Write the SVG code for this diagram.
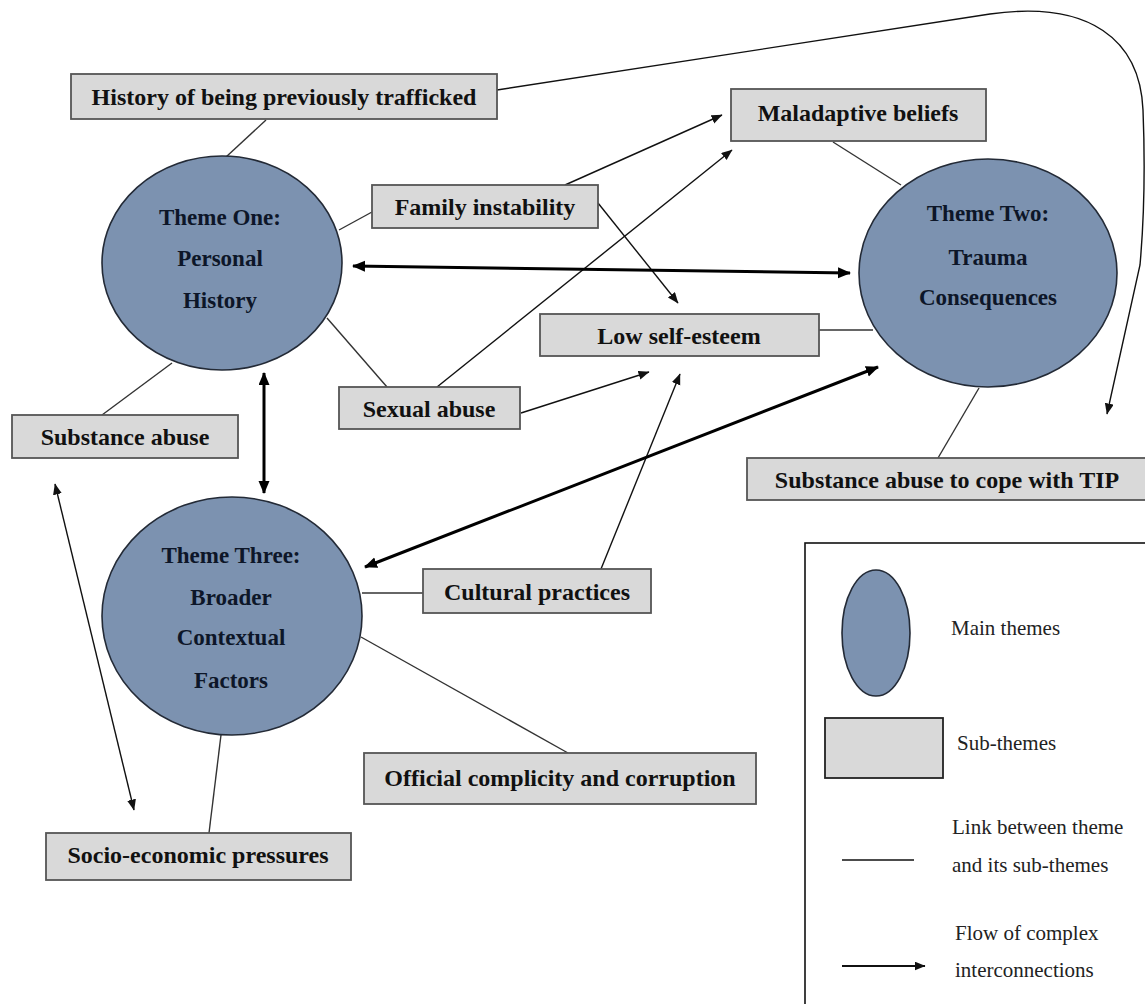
<svg xmlns="http://www.w3.org/2000/svg" width="1145" height="1004" viewBox="0 0 1145 1004">
<style>
.theme{fill:#7c92b0;stroke:#232a36;stroke-width:1.6}
.ttext{font-family:"Liberation Serif","Times New Roman",serif;font-weight:bold;font-size:23px;fill:#0d1628;text-anchor:middle}
.box{fill:#d9d9d9;stroke:#555;stroke-width:1.8}
.btext{font-family:"Liberation Serif","Times New Roman",serif;font-weight:bold;font-size:24px;fill:#111;text-anchor:middle}
.link{stroke:#333;stroke-width:1.4;fill:none}
.flow{stroke:#111;stroke-width:1.4;fill:none;marker-end:url(#ah)}
.flow2{stroke:#111;stroke-width:1.4;fill:none;marker-end:url(#ah);marker-start:url(#ah)}
.thick{stroke:#000;stroke-width:3;fill:none;marker-end:url(#ahb);marker-start:url(#ahb)}
.ltext{font-family:"Liberation Serif","Times New Roman",serif;font-size:21px;fill:#222}
</style>
<defs>
<marker id="ah" markerUnits="userSpaceOnUse" markerWidth="12" markerHeight="10" refX="10.5" refY="4.5" orient="auto-start-reverse"><path d="M0,0 L11,4.5 L0,9 z" fill="#111"/></marker>
<marker id="ahb" markerUnits="userSpaceOnUse" markerWidth="14" markerHeight="12" refX="12" refY="5.5" orient="auto-start-reverse"><path d="M0,0 L13,5.5 L0,11 z" fill="#000"/></marker>
</defs>
<rect width="1145" height="1004" fill="#fff"/>

<g id="connectors">
<line class="link" x1="266" y1="120" x2="226" y2="157"/>
<line class="link" x1="339" y1="230" x2="372" y2="212"/>
<line class="link" x1="327" y1="318" x2="387" y2="387"/>
<line class="link" x1="172" y1="363" x2="102" y2="415"/>
<line class="link" x1="833" y1="142" x2="901" y2="185"/>
<line class="link" x1="819" y1="330" x2="873" y2="330"/>
<line class="link" x1="979" y1="388" x2="938" y2="458"/>
<line class="link" x1="362" y1="593" x2="423" y2="593"/>
<line class="link" x1="361" y1="637" x2="568" y2="753"/>
<line class="link" x1="221" y1="735" x2="209" y2="833"/>
<line class="flow" x1="565" y1="185" x2="722" y2="115"/>
<line class="flow" x1="437" y1="387" x2="732" y2="150"/>
<line class="flow" x1="598" y1="203" x2="678" y2="303"/>
<line class="flow" x1="521" y1="413" x2="649" y2="372"/>
<line class="flow" x1="601" y1="569" x2="680" y2="374"/>
<path class="flow" d="M497,90 L990,14 C1090,0 1140,40 1143,110 C1145,160 1144,220 1140,265 L1107,414"/>
<line class="flow2" x1="55" y1="484" x2="134" y2="810"/>
<line class="thick" x1="353" y1="266" x2="850" y2="273"/>
<line class="thick" x1="264" y1="373" x2="264" y2="493"/>
<line class="thick" x1="365" y1="567" x2="878" y2="367"/>
</g>

<g id="theme-one">
<ellipse class="theme" cx="222" cy="263" rx="120" ry="107"/>
<text class="ttext" x="220" y="225">Theme One:</text>
<text class="ttext" x="220" y="266">Personal</text>
<text class="ttext" x="220" y="308">History</text>
</g>
<g id="theme-two">
<ellipse class="theme" cx="988" cy="273" rx="129" ry="114"/>
<text class="ttext" x="988" y="221">Theme Two:</text>
<text class="ttext" x="988" y="265">Trauma</text>
<text class="ttext" x="988" y="305">Consequences</text>
</g>
<g id="theme-three">
<ellipse class="theme" cx="232" cy="616" rx="130" ry="119"/>
<text class="ttext" x="231" y="563">Theme Three:</text>
<text class="ttext" x="231" y="605">Broader</text>
<text class="ttext" x="231" y="645">Contextual</text>
<text class="ttext" x="231" y="688">Factors</text>
</g>

<g id="history-trafficked"><rect class="box" x="71" y="74" width="426" height="45"/><text class="btext" x="284" y="105">History of being previously trafficked</text></g>
<g id="maladaptive-beliefs"><rect class="box" x="731" y="89" width="255" height="52"/><text class="btext" x="858" y="121">Maladaptive beliefs</text></g>
<g id="family-instability"><rect class="box" x="372" y="185" width="226" height="43"/><text class="btext" x="485" y="215">Family instability</text></g>
<g id="low-self-esteem"><rect class="box" x="540" y="314" width="279" height="42"/><text class="btext" x="679" y="344">Low self-esteem</text></g>
<g id="sexual-abuse"><rect class="box" x="339" y="387" width="181" height="42"/><text class="btext" x="429" y="417">Sexual abuse</text></g>
<g id="substance-abuse"><rect class="box" x="12" y="415" width="226" height="43"/><text class="btext" x="125" y="445">Substance abuse</text></g>
<g id="substance-abuse-tip"><rect class="box" x="747" y="458" width="402" height="42"/><text class="btext" x="947" y="488">Substance abuse to cope with TIP</text></g>
<g id="cultural-practices"><rect class="box" x="423" y="569" width="228" height="44"/><text class="btext" x="537" y="600">Cultural practices</text></g>
<g id="official-complicity"><rect class="box" x="364" y="753" width="392" height="51"/><text class="btext" x="560" y="786">Official complicity and corruption</text></g>
<g id="socio-economic"><rect class="box" x="46" y="833" width="305" height="47"/><text class="btext" x="198" y="863">Socio-economic pressures</text></g>

<g id="legend">
<rect x="805" y="543" width="360" height="480" fill="#fff" stroke="#111" stroke-width="1.6"/>
<ellipse cx="876" cy="633" rx="34" ry="63" fill="#7c92b0" stroke="#232a36" stroke-width="1.6"/>
<text class="ltext" x="951" y="635">Main themes</text>
<rect x="825" y="718" width="118" height="60" fill="#d9d9d9" stroke="#222" stroke-width="1.8"/>
<text class="ltext" x="957" y="750">Sub-themes</text>
<line x1="842" y1="860" x2="914" y2="860" stroke="#111" stroke-width="1.5"/>
<text class="ltext" x="952" y="834">Link between theme</text>
<text class="ltext" x="952" y="872">and its sub-themes</text>
<line x1="842" y1="966" x2="925" y2="966" stroke="#111" stroke-width="2" marker-end="url(#ah)"/>
<text class="ltext" x="955" y="940">Flow of complex</text>
<text class="ltext" x="955" y="977">interconnections</text>
</g>
</svg>
